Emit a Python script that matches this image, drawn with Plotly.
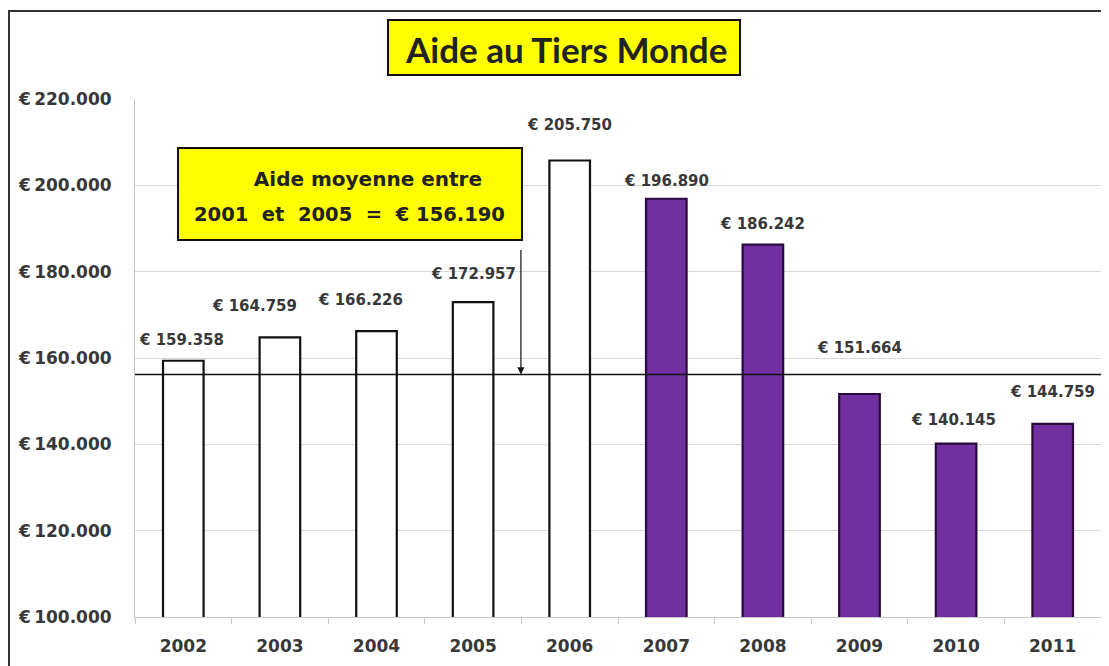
import plotly.graph_objects as go

years = ["2002", "2003", "2004", "2005", "2006", "2007", "2008", "2009", "2010", "2011"]
values = [159358, 164759, 166226, 172957, 205750, 196890, 186242, 151664, 140145, 144759]
label_texts = ["€ 159.358", "€ 164.759", "€ 166.226", "€ 172.957", "€ 205.750",
               "€ 196.890", "€ 186.242", "€ 151.664", "€ 140.145", "€ 144.759"]
mean_value = 156190
title_text = "Aide au Tiers Monde"
mean_line1 = "&nbsp;&nbsp;&nbsp;&nbsp;&nbsp;Aide moyenne entre"
mean_line2 = "2001&nbsp;&nbsp;et&nbsp;&nbsp;2005&nbsp;&nbsp;=&nbsp;&nbsp;€ 156.190"

# styling (not data)
label_yshift = [21, 31, 31, 28, 36, 18, 21, 46, 24, 32]
label_xshift = [-2, -25, -16, 0, 0, 0, 0, 0, -3, 0]
fill_colors = ["white"] * 5 + ["#7030A0"] * 5
line_colors = ["#111111"] * 5 + ["#2a0a3c"] * 5

TICKFONT = "DejaVu Sans"
TXT = "#383838"


def px(x):  # page pixel -> paper x
    return (x - 135) / 966


def py(y):  # page pixel -> paper y
    return (617 - y) / 518


fig = go.Figure()
fig.add_trace(go.Bar(
    x=years, y=values, width=0.42,
    marker=dict(color=fill_colors, line=dict(color=line_colors, width=2.2)),
    hoverinfo="x+y", showlegend=False,
))

for i, (v, t) in enumerate(zip(values, label_texts)):
    fig.add_annotation(x=i, y=v, text=t, showarrow=False, yanchor="middle", xanchor="center",
                       xshift=label_xshift[i], yshift=label_yshift[i],
                       font=dict(family=TICKFONT, size=15, color=TXT, weight="bold"))

# mean line
fig.add_shape(type="line", xref="paper", yref="y", x0=0, x1=1.05, y0=mean_value, y1=mean_value,
              line=dict(color="#111111", width=1.6), layer="above")

# arrow from box to mean line
fig.add_annotation(x=3.495, y=mean_value, ax=0, ay=-126, showarrow=True, arrowhead=2,
                   arrowsize=1.2, arrowwidth=1.2, arrowcolor="#111111", text="")

# mean text box
fig.add_shape(type="rect", xref="paper", yref="paper", x0=px(178), x1=px(522), y0=py(240), y1=py(148),
              fillcolor="#FFFF00", line=dict(color="#111111", width=2), layer="above")
fig.add_annotation(xref="paper", yref="paper", x=px(350), y=py(179), xanchor="center", yanchor="middle",
                   text=mean_line1, showarrow=False,
                   font=dict(family=TICKFONT, size=20, color="#222222", weight="bold"))
fig.add_annotation(xref="paper", yref="paper", x=px(349), y=py(214), xanchor="center", yanchor="middle",
                   text=mean_line2, showarrow=False,
                   font=dict(family=TICKFONT, size=19.5, color="#222222", weight="bold"))

# title box
fig.add_shape(type="rect", xref="paper", yref="paper", x0=px(388), x1=px(740), y0=py(75), y1=py(20),
              fillcolor="#FFFF00", line=dict(color="#111111", width=2), layer="above")
fig.add_annotation(xref="paper", yref="paper", x=px(566), y=py(49), xanchor="center", yanchor="middle",
                   text=title_text, showarrow=False,
                   font=dict(family="Lato", size=35, color="#222222", weight="bold"))

# outer chart border
fig.add_shape(type="rect", xref="paper", yref="paper",
              x0=px(9), x1=1.05, y0=-0.2, y1=py(11),
              line=dict(color="#333333", width=2), fillcolor="rgba(0,0,0,0)", layer="below")

# page has an 8px body margin: figure origin sits at (8, 8)
fig.update_layout(
    width=1101, height=658,
    margin=dict(l=127, r=8, t=91, b=49),
    paper_bgcolor="white", plot_bgcolor="white",
    separators=",.",
    font=dict(family=TICKFONT, color=TXT),
)
fig.update_xaxes(type="category", range=[-0.5, 9.5], showline=True, linecolor="#c8c8c8", linewidth=1,
                 ticks="outside", tickson="boundaries", ticklen=6, tickcolor="#c8c8c8",
                 tickfont=dict(family=TICKFONT, size=17, color=TXT, weight="bold"),
                 ticklabelstandoff=14, showgrid=False)
fig.update_yaxes(range=[100000, 220000], dtick=20000, tickformat=",d", tickprefix="€\u2009",
                 showgrid=True, gridcolor="#d9d9d9", gridwidth=1,
                 showline=True, linecolor="#c8c8c8", linewidth=1, zeroline=False,
                 ticks="", ticklabelstandoff=19,
                 tickfont=dict(family=TICKFONT, size=17, color=TXT, weight="bold"))

fig.write_html("out.html")
